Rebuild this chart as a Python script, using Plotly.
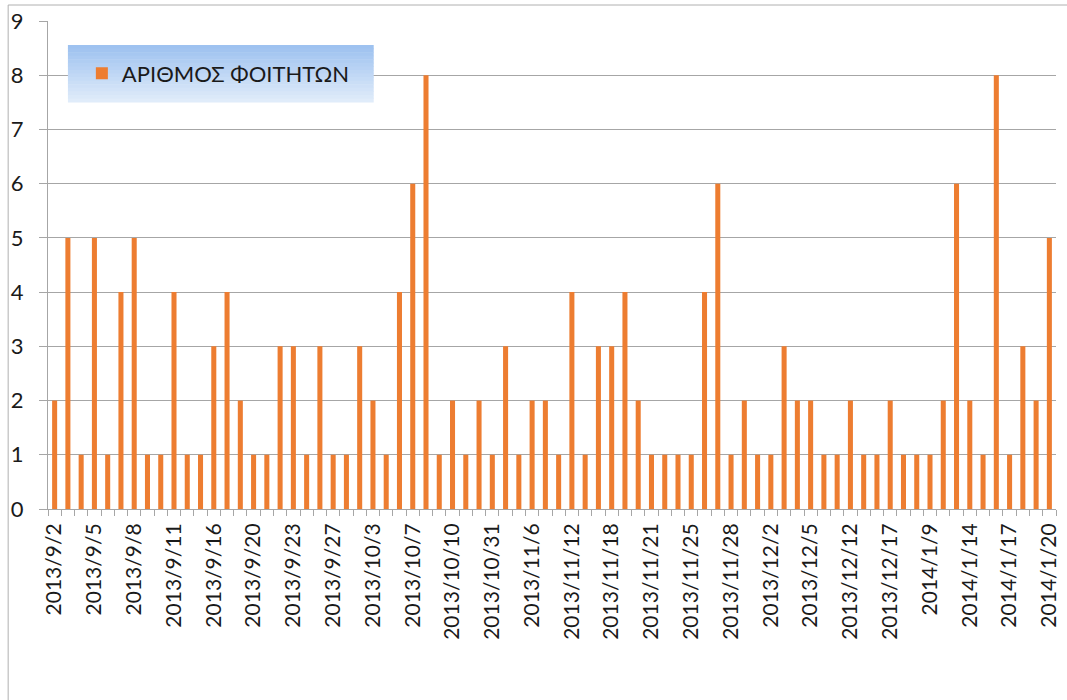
import plotly.graph_objects as go

# ---- data ----
tick_labels = ["2013/9/2", "2013/9/5", "2013/9/8", "2013/9/11", "2013/9/16", "2013/9/20",
               "2013/9/23", "2013/9/27", "2013/10/3", "2013/10/7", "2013/10/10", "2013/10/31",
               "2013/11/6", "2013/11/12", "2013/11/18", "2013/11/21", "2013/11/25", "2013/11/28",
               "2013/12/2", "2013/12/5", "2013/12/12", "2013/12/17", "2014/1/9", "2014/1/14",
               "2014/1/17", "2014/1/20"]
students = [2, 5, 1, 5, 1, 4, 5, 1, 1, 4, 1, 1, 3, 4, 2, 1, 1, 3, 3, 1, 3,
            1, 1, 3, 2, 1, 4, 6, 8, 1, 2, 1, 2, 1, 3, 1, 2, 2, 1, 4, 1, 3,
            3, 4, 2, 1, 1, 1, 1, 4, 6, 1, 2, 1, 1, 3, 2, 2, 1, 1, 2,
            1, 1, 2, 1, 1, 1, 2, 6, 2, 1, 8, 1, 3, 2, 5]
series_name = "ΑΡΙΘΜΟΣ ΦΟΙΤΗΤΩΝ"
label_step = 3

x_idx = list(range(len(students)))
tickvals = x_idx[::label_step]
boundaries = [i - 0.5 for i in range(len(students) + 1)]

FONT = "Lato"
GRID = "#a6a6a6"
TXT = "#1a1a1a"

fig = go.Figure()
fig.add_trace(go.Bar(x=x_idx, y=students, name=series_name,
                     marker=dict(color="#ED7D31", line=dict(width=0)),
                     showlegend=True))

# plot area in pixels: left 48, right 1060, top 21, bottom 509
W, H = 1067, 700
L, R, T, B = 48, 7, 21, 191
pw, ph = W - L - R, H - T - B
def px(x): return (x - L) / pw
def py(y): return (H - B - y) / ph

shapes = []
# gradient legend background
x0, x1, ytop, ybot = 68, 375, 45, 102
n = 16
c_top = (158, 194, 240)
c_bot = (224, 236, 250)
for k in range(n):
    t = k / (n - 1)
    c = tuple(int(c_top[j] + (c_bot[j] - c_top[j]) * t) for j in range(3))
    ya = ytop + (ybot - ytop) * k / n
    yb = ytop + (ybot - ytop) * (k + 1) / n + 0.6
    shapes.append(dict(type="rect", xref="paper", yref="paper",
                       x0=px(x0), x1=px(x1), y0=py(yb), y1=py(ya),
                       fillcolor="rgb(%d,%d,%d)" % c, line=dict(width=0), layer="above"))
# outer chart border
shapes.append(dict(type="rect", xref="paper", yref="paper",
                   x0=px(8), x1=px(1075), y0=py(710), y1=py(5),
                   line=dict(color="#b0b0b0", width=1), fillcolor="rgba(0,0,0,0)", layer="below"))

fig.update_layout(
    width=W, height=H,
    margin=dict(l=L, r=R, t=T, b=B, pad=0),
    paper_bgcolor="white", plot_bgcolor="white",
    font=dict(family=FONT, color=TXT),
    bargap=0.62,
    shapes=shapes,
    showlegend=True,
    legend=dict(x=px(82), y=(py(ytop) + py(ybot)) / 2,
                xanchor="left", yanchor="middle",
                bgcolor="rgba(0,0,0,0)", borderwidth=0,
                itemwidth=30,
                font=dict(family=FONT, size=22, color=TXT)),
    xaxis=dict(range=[-0.5, len(students) - 0.5],
               tickmode="array", tickvals=tickvals, ticktext=tick_labels,
               tickangle=-90, ticks="", showgrid=False, zeroline=False,
               showline=True, linecolor=GRID, linewidth=1,
               tickfont=dict(family=FONT, size=21, color=TXT),
               ticklabelstandoff=5,
               minor=dict(tickmode="array", tickvals=boundaries, ticks="outside",
                          ticklen=6, tickcolor=GRID, tickwidth=1, showgrid=False)),
    yaxis=dict(range=[0, 9], tickmode="linear", dtick=1,
               showgrid=True, gridcolor=GRID, gridwidth=1,
               zeroline=False, showline=True, linecolor=GRID, linewidth=1,
               ticks="outside", ticklen=8, tickcolor=GRID,
               ticklabelstandoff=11,
               tickfont=dict(family=FONT, size=22, color=TXT)),
)

fig.write_html("out.html", config={"displayModeBar": False},
               post_script="document.body.style.margin='0';document.body.style.padding='0';")
